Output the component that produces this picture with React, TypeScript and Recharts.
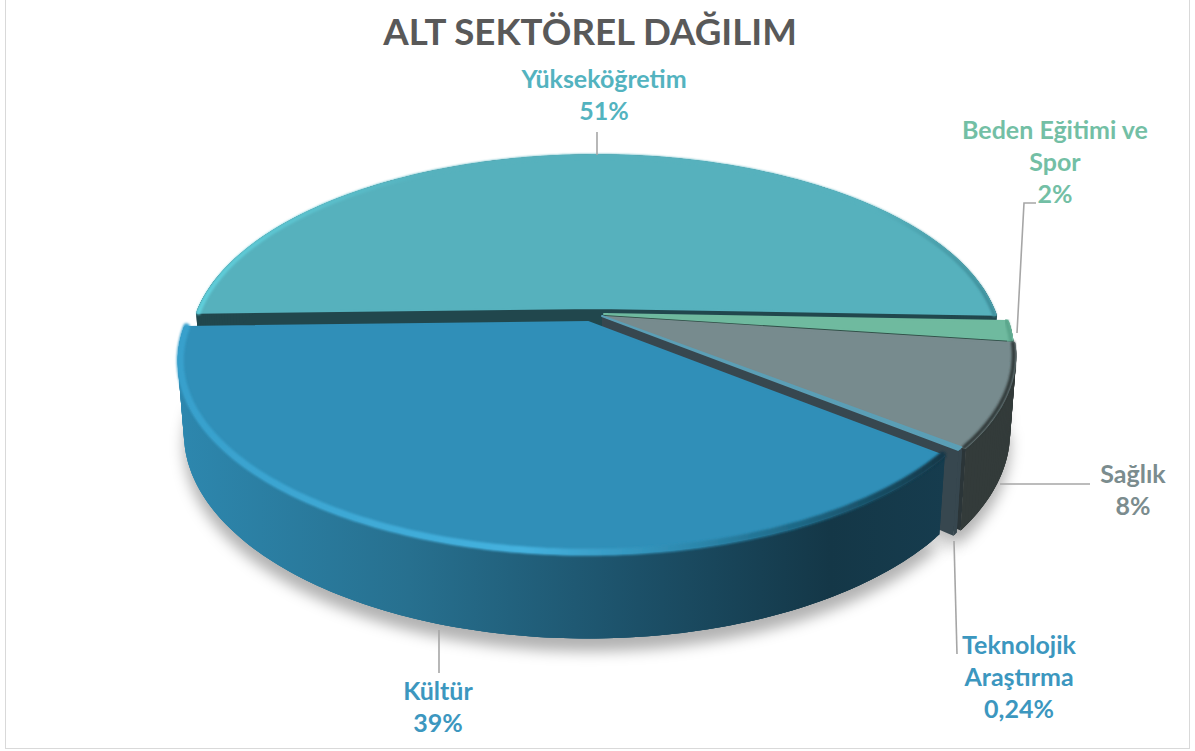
import { Pie, PieChart } from "recharts";

const categories = ["Yükseköğretim", "Beden Eğitimi ve Spor", "Sağlık", "Teknolojik Araştırma", "Kültür"];
// the printed labels are rounded
const values = [51, 1.6, 8.45, 0.24, 38.7];
const labelLines = [
  ["Yükseköğretim", "51%"],
  ["Beden Eğitimi ve", "Spor", "2%"],
  ["Sağlık", "8%"],
  ["Teknolojik", "Araştırma", "0,24%"],
  ["Kültür", "39%"],
];
const rows = categories.map((name, idx) => ({ name, value: values[idx], idx }));

const WIDTH = 1195;
const HEIGHT = 751;

// look of each slice, in data order
const topColors = ["#56b1bd", "#6fba9f", "#778b8e", "#5b9fb6", "#308fb8"];
const wallColors = ["#21474d", "#4f8f7a", "#333b3a", "#37474f", "url(#kulturWall)"];
const cutColors = ["#21474d", "#2f4f47", "#2b3538", "#37474f", "#14394b"];
const rimColors = ["url(#yukRim)", "#5aa58b", "#333b3a", "#5b9fb6", "url(#kulturRim)"];
const apexX = [596, 604, 606, 602, 588];
const apexY = [308, 314, 317, 316, 322];
const radiusScale = [0.99, 1, 1, 1, 1];
const depthScale = [1, 1, 1.05, 1.09, 1];
const labelColors = ["#53b3bf", "#73bfa5", "#7b8c8e", "#3c97bf", "#3c97bf"];
const labelCenterX = [604, 1055, 1133, 1019, 438];
const labelFirstY = [88, 139, 483, 654, 700];
const leaders = ["597,132 597,155", "1017,333 1024,203 1036,203", "1000,484 1090,484", "954,541 957,654", "439,630 439,673"];

// perspective of the pie plate, fitted on the reference
const R = 402;
const RY = 186;
const K = 0.2;
const DEPTH = 70;
const BASE = 0.985;

const rad = (a: number) => (a * Math.PI) / 180;

function rimTop(i: number, a: number, inset = 0) {
  const s = 1 / (1 + K * Math.sin(rad(a)));
  const rx = R * radiusScale[i] - inset;
  const ry = RY * radiusScale[i] - inset * 0.7;
  return [apexX[i] + rx * Math.cos(rad(a)) * s, apexY[i] - ry * Math.sin(rad(a)) * s];
}

function rimBottom(i: number, a: number) {
  const s = 1 / (1 + K * Math.sin(rad(a)));
  return [
    apexX[i] + BASE * R * radiusScale[i] * Math.cos(rad(a)) * s,
    apexY[i] - BASE * RY * radiusScale[i] * Math.sin(rad(a)) * s + DEPTH * depthScale[i] * s,
  ];
}

function sweep(start: number, end: number) {
  const n = Math.max(2, Math.ceil(Math.abs(end - start)));
  return Array.from({ length: n + 1 }, (_, k) => start + ((end - start) * k) / n);
}

const toPath = (pts: number[][], close = false) =>
  pts.map((p, k) => `${k ? "L" : "M"}${p[0].toFixed(1)} ${p[1].toFixed(1)}`).join(" ") + (close ? " Z" : "");

function ShadowShape(props: any) {
  const i = props.payload.idx;
  const pts = sweep(props.startAngle, props.endAngle).map((a) => rimBottom(i, a));
  const center = [apexX[i], apexY[i] + DEPTH];
  return <path d={toPath([center, ...pts], true)} fill="#000" fillOpacity={0.3} transform="translate(0 13)" filter="url(#softShadow)" />;
}

function SideShape(props: any) {
  const i = props.payload.idx;
  const angles = sweep(props.startAngle, props.endAngle);
  const cut = (a: number) =>
    toPath([[apexX[i], apexY[i]], rimTop(i, a), rimBottom(i, a), [apexX[i], apexY[i] + DEPTH]], true);
  return (
    <g>
      <path d={cut(props.startAngle)} fill={cutColors[i]} />
      <path d={cut(props.endAngle)} fill={cutColors[i]} />
      {angles.slice(1).map((a, k) => {
        // each quad overlaps the next one so no seams show between them
        const b = angles[Math.min(k + 3, angles.length - 1)];
        const quad = toPath([rimTop(i, angles[k]), rimTop(i, a), rimTop(i, b), rimBottom(i, b), rimBottom(i, a), rimBottom(i, angles[k])], true);
        return <path key={k} d={quad} fill={wallColors[i]} />;
      })}
    </g>
  );
}

function TopShape(props: any) {
  const i = props.payload.idx;
  const angles = sweep(props.startAngle, props.endAngle);
  const outline = [[apexX[i], apexY[i]], ...angles.map((a) => rimTop(i, a, 1))];
  const rim = angles.map((a) => rimTop(i, a, 2.5));
  return (
    <g>
      <path d={toPath(outline, true)} fill={topColors[i]} stroke={topColors[i]} strokeWidth={2} strokeLinejoin="round" />
      <path d={toPath(rim)} fill="none" stroke={rimColors[i]} strokeWidth={i === 4 ? 7 : 4} strokeLinecap="round" filter="url(#rimBlur)" />
    </g>
  );
}

function SliceLabel(props: any) {
  const i = props.index;
  return (
    <g>
      <polyline points={leaders[i]} fill="none" stroke="#a6a6a6" strokeWidth={1.6} />
      <text textAnchor="middle" fontFamily="Lato, sans-serif" fontWeight={700} fontSize={25} fill={labelColors[i]}>
        {labelLines[i].map((line, k) => (
          <tspan key={k} x={labelCenterX[i]} y={labelFirstY[i] + k * 32}>
            {line}
          </tspan>
        ))}
      </text>
    </g>
  );
}

export default function App() {
  return (
    <div style={{ position: "absolute", left: 0, top: 0, width: WIDTH, height: HEIGHT, background: "#fff", overflow: "hidden" }}>
      <div style={{ position: "absolute", left: 5, top: -2, width: 1183, height: 749, border: "1.5px solid #d9d9d9" }} />
      <PieChart width={WIDTH} height={HEIGHT} margin={{ top: 0, right: 0, bottom: 0, left: 0 }} style={{ position: "absolute", left: 0, top: 0 }}>
        <defs>
          <linearGradient id="kulturWall" gradientUnits="userSpaceOnUse" x1={180} y1={0} x2={945} y2={0}>
            <stop offset="0" stopColor="#2d87ae" />
            <stop offset="0.3" stopColor="#27708f" />
            <stop offset="0.6" stopColor="#1c5068" />
            <stop offset="0.85" stopColor="#143747" />
            <stop offset="1" stopColor="#163c4e" />
          </linearGradient>
          <linearGradient id="kulturRim" gradientUnits="userSpaceOnUse" x1={180} y1={0} x2={945} y2={0}>
            <stop offset="0" stopColor="#38a0cc" />
            <stop offset="0.45" stopColor="#45b2df" />
            <stop offset="0.68" stopColor="#2b86ab" />
            <stop offset="0.82" stopColor="#1d6582" />
            <stop offset="1" stopColor="#143747" />
          </linearGradient>
          <linearGradient id="yukRim" gradientUnits="userSpaceOnUse" x1={197} y1={0} x2={995} y2={0}>
            <stop offset="0" stopColor="#60d0dc" />
            <stop offset="0.3" stopColor="#56b1bd" />
            <stop offset="0.85" stopColor="#56b1bd" />
            <stop offset="1" stopColor="#3f8f9b" />
          </linearGradient>
          <filter id="softShadow" x="-10%" y="-10%" width="120%" height="130%">
            <feGaussianBlur stdDeviation="7" />
          </filter>
          <filter id="rimBlur" x="-5%" y="-5%" width="110%" height="110%">
            <feGaussianBlur stdDeviation="1.2" />
          </filter>
        </defs>
        <text x={590} y={45} textAnchor="middle" fontFamily="Lato, sans-serif" fontWeight={700} fontSize={36.7} fill="#595959">
          ALT SEKTÖREL DAĞILIM
        </text>
        <Pie data={rows} dataKey="value" nameKey="name" startAngle={181.5} endAngle={-178.5} outerRadius={R} stroke="none" shape={ShadowShape} isAnimationActive={false} />
        <Pie data={rows} dataKey="value" nameKey="name" startAngle={181.5} endAngle={-178.5} outerRadius={R} stroke="none" shape={SideShape} isAnimationActive={false} />
        <Pie data={rows} dataKey="value" nameKey="name" startAngle={181.5} endAngle={-178.5} outerRadius={R} stroke="none" shape={TopShape} label={SliceLabel} labelLine={false} isAnimationActive={false} />
      </PieChart>
    </div>
  );
}
